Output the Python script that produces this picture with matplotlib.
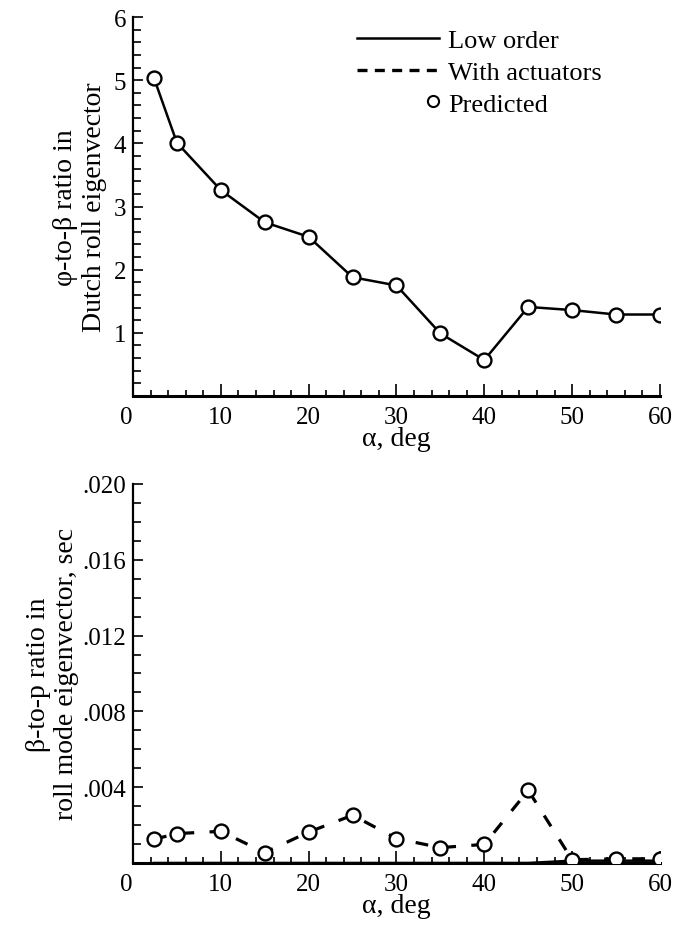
"""Dutch roll / roll mode eigenvector ratios vs angle of attack."""
import matplotlib
matplotlib.use("Agg")
import matplotlib.pyplot as plt
from matplotlib.lines import Line2D
from matplotlib.legend_handler import HandlerLine2D
from matplotlib.ticker import MultipleLocator, FuncFormatter

plt.rcParams["font.family"] = ["Liberation Serif", "DejaVu Serif"]
plt.rcParams["font.size"] = 18

# angle of attack, deg
alpha = [2.4, 5, 10, 15, 20, 25, 30, 35, 40, 45, 50, 55, 60]

# phi-to-beta ratio, Dutch roll
phi_beta_low = [5.03, 4.01, 3.26, 2.75, 2.52, 1.88, 1.75, 0.99, 0.57, 1.41, 1.36, 1.29, 1.29]
phi_beta_pred = [5.03, 4.01, 3.26, 2.75, 2.52, 1.88, 1.75, 0.99, 0.57, 1.41, 1.36, 1.29, 1.29]

# beta-to-p ratio, roll mode (sec)
beta_p_low = [0, 0, 0, 0, 0, 0, 0, 0, 0, 0, 0.00012, 0.00012, 0.00012]
beta_p_act = [0.00125, 0.00155, 0.00167, 0.00055, 0.00163, 0.00252, 0.00129,
              0.00081, 0.00098, 0.00383, 0.00017, 0.00022, 0.00022]

x_ticks = [0, 10, 20, 30, 40, 50, 60]


class RightMarker(HandlerLine2D):
    """Puts the single legend marker at the right end of the handle."""
    def get_xdata(self, legend, xdescent, ydescent, width, height, fontsize):
        m = width - xdescent - 0.2 * fontsize
        return [m, m], [m]


def style_axes(ax):
    for s in ("top", "right"):
        ax.spines[s].set_visible(False)
    ax.spines["left"].set_linewidth(1.6)
    ax.spines["bottom"].set_linewidth(2.2)
    ax.set_xlim(0, 60)
    ax.set_xticks(x_ticks)
    ax.xaxis.set_minor_locator(MultipleLocator(2))
    ax.tick_params(axis="x", which="major", direction="in", length=9, width=1.2, pad=7)
    ax.tick_params(axis="x", which="minor", direction="in", length=4, width=1.2)
    ax.tick_params(axis="y", which="major", direction="in", length=7, width=1.2, pad=5)
    ax.tick_params(axis="y", which="minor", direction="in", length=6, width=1.2)
    ax.get_xticklabels()[0].set_horizontalalignment("right")
    ax.set_xlabel("α, deg", fontsize=20, labelpad=-1)


fig = plt.figure(figsize=(6.84, 9.28), dpi=100)
ax1 = fig.add_axes([0.1944, 0.5722, 0.7705, 0.4084])
ax2 = fig.add_axes([0.1944, 0.0690, 0.7705, 0.4084])

mk = dict(marker="o", markersize=10, markerfacecolor="white",
          markeredgecolor="black", markeredgewidth=1.7)

# top panel
ax1.plot(alpha, phi_beta_low, color="black", lw=1.8, zorder=2)
ax1.plot(alpha, phi_beta_pred, ls="none", zorder=3, **mk)
ax1.set_ylim(0, 6)
ax1.set_yticks([1, 2, 3, 4, 5, 6])
ax1.yaxis.set_minor_locator(MultipleLocator(0.2))
style_axes(ax1)
ax1.set_ylabel("φ-to-β ratio in\nDutch roll eigenvector", fontsize=20,
               labelpad=5, linespacing=1.2)

handles = [Line2D([], [], color="black", lw=1.8),
           Line2D([], [], color="black", lw=2.4, ls=(0, (3, 2.2))),
           Line2D([], [], ls="none", marker="o", markersize=8,
                  markerfacecolor="white", markeredgecolor="black", markeredgewidth=1.5)]
ax1.legend(handles, ["Low order", "With actuators", "Predicted"],
           loc="upper left", bbox_to_anchor=(0.425, 0.97), frameon=False,
           borderpad=0, borderaxespad=0, fontsize=19,
           handlelength=3.1, handletextpad=0.35, labelspacing=0.32, numpoints=1,
           handler_map={handles[2]: RightMarker(numpoints=1)})

# bottom panel
ax2.plot(alpha, beta_p_low, color="black", lw=1.8, zorder=2)
ax2.plot(alpha, beta_p_act, color="black", lw=2.3, ls=(0, (4, 4.8)), zorder=2)
ax2.plot(alpha, beta_p_act, ls="none", zorder=3, **mk)
ax2.set_ylim(0, 0.020)
ax2.set_yticks([0.004, 0.008, 0.012, 0.016, 0.020])
ax2.yaxis.set_minor_locator(MultipleLocator(0.001))
ax2.yaxis.set_major_formatter(FuncFormatter(lambda v, p: f"{v:.3f}".lstrip("0")))
style_axes(ax2)
ax2.set_ylabel("β-to-p ratio in\nroll mode eigenvector, sec", fontsize=20,
               labelpad=2, linespacing=1.2)

fig.savefig("out.png", dpi=100)
